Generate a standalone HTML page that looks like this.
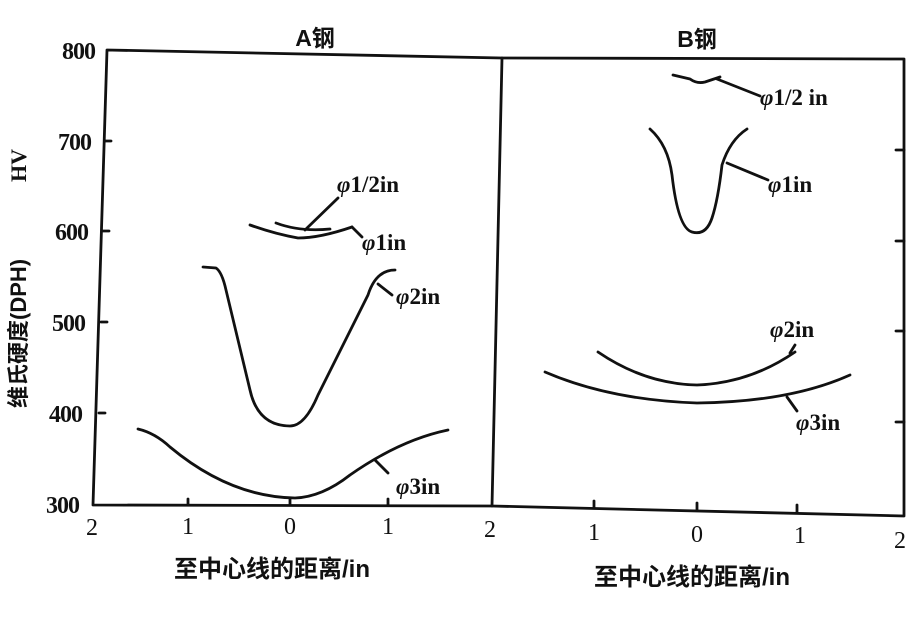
<!DOCTYPE html>
<html><head><meta charset="utf-8"><style>
html,body{margin:0;padding:0;background:#fff;}
svg{display:block}
text{font-family:"Liberation Serif","Noto Serif CJK SC",serif;fill:#111;}
.c{font-family:"Liberation Sans","Noto Sans CJK SC",sans-serif;font-weight:bold;}
</style></head><body>
<svg width="912" height="618" viewBox="0 0 912 618" xmlns="http://www.w3.org/2000/svg">
<rect width="912" height="618" fill="#fff"/>
<g fill="none" stroke="#111" stroke-width="2.8" stroke-linecap="round" stroke-linejoin="round">
<path d="M107,50 L502,58 L904,59 L904,516 L492,506 L93,505 Z"/>
<path d="M502,58 L492,506"/>
<path d="M105,141 h6 M103,231 h6 M101,322 h6 M99,413 h6"/>
<path d="M188,505 v-6 M290,505 v-6 M388,505 v-6"/>
<path d="M904,150 h-8 M904,241 h-8 M904,331 h-8 M904,422 h-8"/>
<path d="M594,508 v-7 M697,510 v-7 M797,512 v-7"/>
<path d="M276,223 Q300,232 330,229"/>
<path d="M250,225 Q275,234 298,238 Q320,238 352,227"/>
<path d="M305,230 L338,198"/>
<path d="M352,227 L362,237"/>
<path d="M203,267 L216,268 Q222,272 226,290 L250,390 Q258,426 290,426 Q305,426 318,395 L368,295 Q376,270 395,270"/>
<path d="M378,284 L392,295"/>
<path d="M138,429 Q155,433 170,447 Q230,497 295,498 Q322,497 350,475 Q400,440 448,430"/>
<path d="M375,460 L388,473"/>
<path d="M673,75 L690,79 Q697,84 705,82 L720,77"/>
<path d="M717,79 L760,96"/>
<path d="M650,129 Q668,145 672,175 Q678,228 692,232 Q706,236 712,218 Q718,200 722,165 Q730,140 747,129"/>
<path d="M727,163 L768,180"/>
<path d="M598,352 Q645,384 697,385 Q750,383 795,352"/>
<path d="M790,353 L795,345"/>
<path d="M545,372 Q610,400 697,403 Q790,402 850,375"/>
<path d="M787,397 L797,411"/>
</g>
<text class="c" x="315" y="46" font-size="23" text-anchor="middle">A钢</text>
<text class="c" x="697" y="47" font-size="23" text-anchor="middle">B钢</text>
<g font-size="24" font-weight="bold" text-anchor="end" letter-spacing="-1">
<text x="95" y="59">800</text>
<text x="91" y="150">700</text>
<text x="88" y="240">600</text>
<text x="85" y="331">500</text>
<text x="82" y="422">400</text>
<text x="79" y="513">300</text>
</g>
<g font-size="24" text-anchor="middle">
<text x="92" y="535">2</text><text x="188" y="534">1</text><text x="290" y="534">0</text><text x="388" y="534">1</text><text x="490" y="537">2</text>
<text x="594" y="540">1</text><text x="697" y="542">0</text><text x="800" y="543">1</text><text x="900" y="548">2</text>
</g>
<text class="c" x="272" y="577" font-size="24" text-anchor="middle">至中心线的距离/in</text>
<text class="c" x="692" y="585" font-size="24" text-anchor="middle">至中心线的距离/in</text>
<text class="c" transform="translate(26,408) rotate(-90)" font-size="22">维氏硬度(DPH)</text>
<text transform="translate(26,182) rotate(-90)" font-size="22" font-weight="bold">HV</text>
<g font-size="23" font-weight="bold">
<text x="337" y="192"><tspan font-style="italic">φ</tspan>1/2in</text>
<text x="362" y="250"><tspan font-style="italic">φ</tspan>1in</text>
<text x="396" y="304"><tspan font-style="italic">φ</tspan>2in</text>
<text x="396" y="494"><tspan font-style="italic">φ</tspan>3in</text>
<text x="760" y="105"><tspan font-style="italic">φ</tspan>1/2 in</text>
<text x="768" y="192"><tspan font-style="italic">φ</tspan>1in</text>
<text x="770" y="337"><tspan font-style="italic">φ</tspan>2in</text>
<text x="796" y="430"><tspan font-style="italic">φ</tspan>3in</text>
</g>
</svg>
</body></html>
